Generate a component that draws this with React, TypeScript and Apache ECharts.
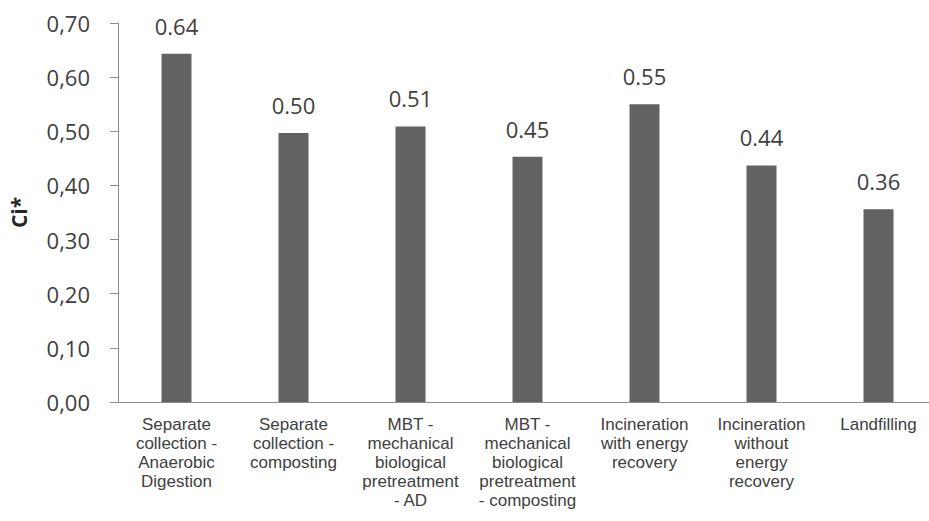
import React, { useEffect, useRef } from "react";
import * as echarts from "echarts";

const categories = [
  "Separate\ncollection -\nAnaerobic\nDigestion",
  "Separate\ncollection -\ncomposting",
  "MBT -\nmechanical\nbiological\npretreatment\n- AD",
  "MBT -\nmechanical\nbiological\npretreatment\n- composting",
  "Incineration\nwith energy\nrecovery",
  "Incineration\nwithout\nenergy\nrecovery",
  "Landfilling",
];
const values = [0.643, 0.497, 0.509, 0.453, 0.55, 0.437, 0.356];
const yTicks = [0, 0.1, 0.2, 0.3, 0.4, 0.5, 0.6, 0.7];

export default function App() {
  const ref = useRef<HTMLDivElement>(null);
  useEffect(() => {
    if (!ref.current) return;
    const chart = echarts.init(ref.current, null, { renderer: "svg" });
    chart.setOption({
      animation: false,
      backgroundColor: "#ffffff",
      grid: {
        left: 118,
        top: 23,
        width: 819,
        height: 379,
        containLabel: false,
        outerBoundsMode: "none",
      },
      xAxis: {
        type: "category",
        data: categories,
        axisLine: { show: true, lineStyle: { color: "#8c8c8c", width: 1 } },
        axisTick: { show: false },
        axisLabel: {
          interval: 0,
          margin: 13,
          fontFamily: "Liberation Sans",
          fontSize: 17,
          lineHeight: 19,
          color: "#404040",
          align: "center",
        },
      },
      yAxis: {
        type: "value",
        min: 0,
        max: 0.7,
        interval: 0.1,
        name: "Ci*",
        nameLocation: "middle",
        nameRotate: 90,
        nameGap: 89,
        nameMoveOverlap: false,
        nameTextStyle: {
          fontFamily: "Open Sans",
          fontWeight: "bold",
          fontSize: 21,
          color: "#262626",
        },
        axisLine: { show: true, lineStyle: { color: "#8c8c8c", width: 1 } },
        axisTick: { show: true, inside: false, length: 8, lineStyle: { color: "#8c8c8c" } },
        splitLine: { show: false },
        axisLabel: {
          margin: 28,
          fontFamily: "Open Sans",
          fontSize: 22,
          color: "#404040",
          formatter: (v: number) => {
            const t = yTicks.find((x) => Math.abs(x - v) < 1e-9);
            return (t !== undefined ? t : v).toFixed(2).replace(".", ",");
          },
        },
      },
      series: [
        {
          type: "bar",
          data: values,
          barWidth: 30,
          itemStyle: { color: "#626262" },
          label: {
            show: true,
            position: "top",
            distance: 17,
            fontFamily: "Open Sans",
            fontSize: 22,
            color: "#404040",
            formatter: (p: any) => Number(p.value).toFixed(2),
          },
        },
      ],
    });
    return () => chart.dispose();
  }, []);
  return (
    <div
      ref={ref}
      style={{ position: "fixed", left: 0, top: 0, width: 929, height: 521, background: "#fff" }}
    />
  );
}
